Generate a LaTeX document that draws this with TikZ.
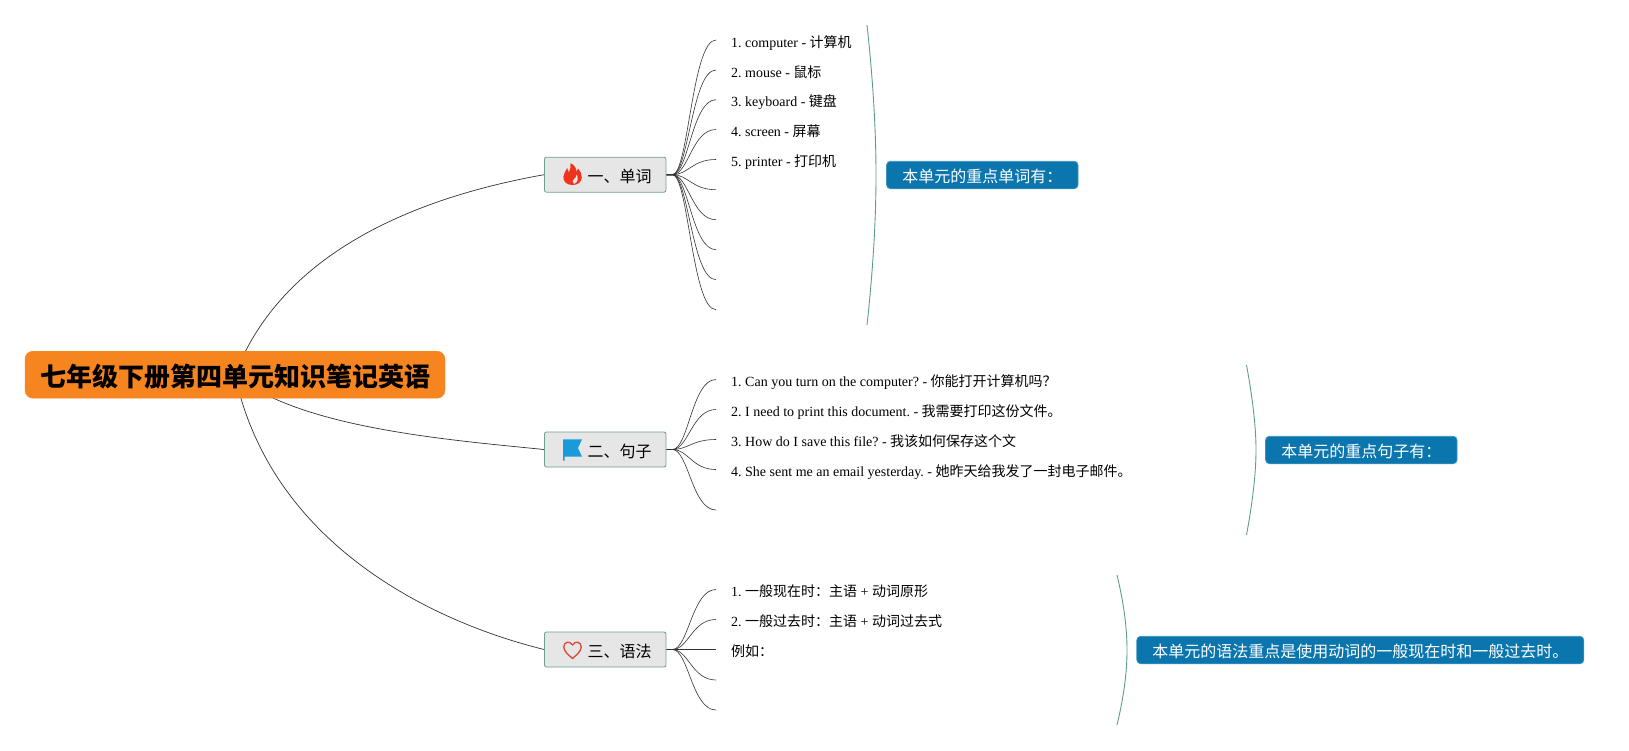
\documentclass[tikz,border=0pt]{standalone}
\usepackage{fontspec}
\setmainfont{Liberation Serif}
\newfontfamily\cjk{Noto Sans CJK SC}
\usetikzlibrary{backgrounds}
\newcommand{\zh}[1]{{\cjk #1}}
\definecolor{rootfill}{HTML}{F6841F}
\definecolor{branchfill}{HTML}{E6E6E6}
\definecolor{branchline}{HTML}{6E9E8E}
\definecolor{sumfill}{HTML}{0B75AD}
\definecolor{sumline}{HTML}{3F93BE}
\definecolor{bracecol}{HTML}{5F9C8C}
\definecolor{linkcol}{HTML}{333333}
\definecolor{flamecol}{HTML}{F0341C}
\definecolor{flagcol}{HTML}{1A9AD9}
\definecolor{heartcol}{HTML}{D9503F}
\tikzset{
  rootnode/.style={fill=rootfill,draw=rootfill,rounded corners=8pt,minimum width=420pt,minimum height=47pt,inner sep=0pt,text height=24pt,text depth=0pt,font=\cjk\bfseries\fontsize{26}{30}\selectfont,text=black},
  branchnode/.style={fill=branchfill,draw=branchline,line width=.8pt,rounded corners=2pt,minimum width=121.5pt,minimum height=35pt,inner sep=0pt,text height=15.2pt,text depth=0pt,font=\cjk\fontsize{16}{18}\selectfont,text=black},
  leafnode/.style={anchor=west,inner xsep=15pt,inner ysep=0pt,text height=14pt,text depth=0pt,font=\fontsize{14}{16}\selectfont\frenchspacing,text=black},
  sumnode/.style={fill=sumfill,draw=sumline,line width=.8pt,rounded corners=4pt,minimum height=27.5pt,inner sep=0pt,text height=14pt,text depth=0pt,font=\cjk\fontsize{16}{18}\selectfont,text=white},
  link/.style={draw=linkcol,line width=.7pt},
  leaflink/.style={draw=linkcol,line width=.6pt},
  bracelink/.style={draw=bracecol,line width=.9pt}
}
\begin{document}
\begin{tikzpicture}[x=1pt,y=-1pt]
\useasboundingbox (0,0) rectangle (1629,750);
\node[rootnode] (root) at (235,374.7) {七年级下册第四单元知识笔记英语};
\node[branchnode] (b1) at (605.2,174.7) {\hspace*{29pt}一、单词};
\node[branchnode] (b2) at (605.2,449.5) {\hspace*{29pt}二、句子};
\node[branchnode] (b3) at (605.2,649.5) {\hspace*{29pt}三、语法};
% leaves group 1
\node[leafnode] (a1) at (716,40) {1. computer - \zh{计算机}};
\node[leafnode] (a2) at (716,70) {2. mouse - \zh{鼠标}};
\node[leafnode] (a3) at (716,99.7) {3. keyboard - \zh{键盘}};
\node[leafnode] (a4) at (716,129.5) {4. screen - \zh{屏幕}};
\node[leafnode] (a5) at (716,159.5) {5. printer - \zh{打印机}};
\coordinate (a6) at (716,189.7);
\coordinate (a7) at (716,219.7);
\coordinate (a8) at (716,249.7);
\coordinate (a9) at (716,279.7);
\coordinate (a10) at (716,309.7);
% group 2
\node[leafnode] (c1) at (716,379.5) {1. Can you turn on the computer? - \zh{你能打开计算机吗？}};
\node[leafnode] (c2) at (716,409.5) {2. I need to print this document. - \zh{我需要打印这份文件。}};
\node[leafnode] (c3) at (716,439.5) {3. How do I save this file? - \zh{我该如何保存这个文}};
\node[leafnode] (c4) at (716,469.5) {4. She sent me an email yesterday. - \zh{她昨天给我发了一封电子邮件。}};
\coordinate (c5) at (716,510);
% group 3
\node[leafnode] (d1) at (716,589.5) {1. \zh{一般现在时：主语} + \zh{动词原形}};
\node[leafnode] (d2) at (716,619.5) {2. \zh{一般过去时：主语} + \zh{动词过去式}};
\node[leafnode] (d3) at (716,649.5) {\zh{例如：}};
\coordinate (d4) at (716,680);
\coordinate (d5) at (716,710);
% summaries
\node[sumnode,minimum width=191.5pt] (s1) at (982.3,175) {本单元的重点单词有：};
\node[sumnode,minimum width=191.5pt] (s2) at (1361.3,450) {本单元的重点句子有：};
\node[sumnode,minimum width=447pt] (s3) at (1360.3,650) {本单元的语法重点是使用动词的一般现在时和一般过去时。};
% brace ends
\coordinate (t1) at (867,25); \coordinate (u1) at (867,325); \coordinate (m1) at (876,175);
\coordinate (t2) at (1246.5,365); \coordinate (u2) at (1246.5,535); \coordinate (m2) at (1256,450);
\coordinate (t3) at (1117,575); \coordinate (u3) at (1117,725); \coordinate (m3) at (1127,650);
\begin{scope}[on background layer]
\draw[link] (root.center) .. controls (285,245) and (430,195) .. (b1.west);
\draw[link] (root.center) .. controls (298,428) and (450,440) .. (b2.west);
\draw[link] (root.center) .. controls (270,540) and (425,620) .. (b3.west);
\foreach \n in {a1,a2,a3,a4,a5,a6,a7,a8,a9,a10}{
  \draw[leaflink] (b1.east) -- ++(6,0) .. controls +(16,0) and (692,0 |- \n) .. (\n);
}
\foreach \n in {c1,c2,c3,c4,c5}{
  \draw[leaflink] (b2.east) -- ++(6,0) .. controls +(16,0) and (692,0 |- \n) .. (\n);
}
\foreach \n in {d1,d2,d3,d4,d5}{
  \draw[leaflink] (b3.east) -- ++(6,0) .. controls +(16,0) and (692,0 |- \n) .. (\n);
}
\draw[bracelink] (t1) .. controls (873,80) and (876,130) .. (m1) .. controls (876,220) and (873,270) .. (u1);
\draw[bracelink] (t2) .. controls (1252,395) and (1256,425) .. (m2) .. controls (1256,475) and (1252,505) .. (u2);
\draw[bracelink] (t3) .. controls (1123,600) and (1127,625) .. (m3) .. controls (1127,675) and (1123,700) .. (u3);
\end{scope}
% flame icon
\fill[flamecol] (572.5,185) .. controls (566,185) and (563,181) .. (563.4,176.5)
  .. controls (563.7,173) and (566,171) .. (567.2,168) .. controls (568,169.5) and (568.5,171) .. (568.8,172.5)
  .. controls (570.5,169.5) and (571,166) .. (570.5,163) .. controls (574.5,165) and (576.5,168.5) .. (576.5,172)
  .. controls (577.5,171) and (578,170) .. (578,168.5) .. controls (580.5,171.5) and (582,174.5) .. (581.8,177.5)
  .. controls (581.5,182) and (578,185) .. (572.5,185) -- cycle;
\fill[branchfill] (574,184) .. controls (578,182) and (579,178) .. (576.5,174.5) .. controls (576.5,177) and (575.5,178) .. (574.5,178.5)
  .. controls (572,180) and (572,182) .. (574,184) -- cycle;
% flag icon
\fill[flagcol] (563,439.3) -- (582,439.3) -- (578,448) -- (582,456.7) -- (564.5,456.7) -- (564.5,460.5) -- (563,460.5) -- cycle;
% heart icon
\draw[heartcol,line width=1.4pt,line join=round] (572.5,658.5) .. controls (568,654.5) and (563.8,651) .. (563.8,647)
  .. controls (563.8,641.5) and (570,640.5) .. (572.5,645) .. controls (575,640.5) and (581.2,641.5) .. (581.2,647)
  .. controls (581.2,651) and (577,654.5) .. (572.5,658.5) -- cycle;
\end{tikzpicture}
\end{document}
